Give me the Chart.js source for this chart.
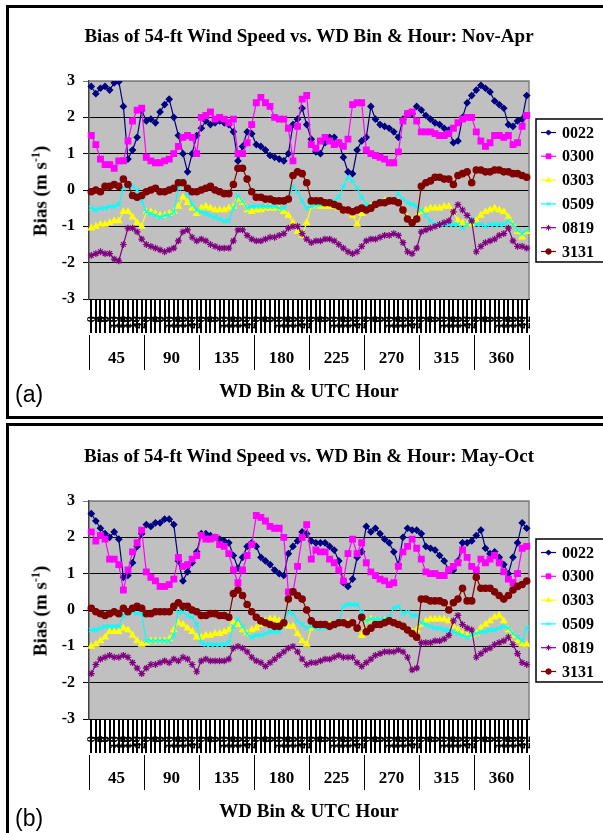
<!DOCTYPE html>
<html>
<head>
<meta charset="utf-8">
<script src="https://cdn.jsdelivr.net/npm/chart.js@4.4.1/dist/chart.umd.min.js"></script>
<style>
body{margin:0;width:603px;height:833px;overflow:hidden;background:#fff;position:relative;font-family:"Liberation Serif","Times New Roman",serif}
.frame{position:absolute;left:6px;width:640px;border:3px solid #000;box-sizing:border-box}
#frameA{top:5px;height:414px}
#frameB{top:423px;height:430px}
.panel{position:absolute;left:0;width:603px}
#panelA{top:0;height:416px}
#panelB{top:420px;height:413px}
.panel canvas{position:absolute;left:0;top:0}
.title{position:absolute;left:0;width:618px;text-align:center;font-weight:bold;font-size:19px;line-height:19px;white-space:nowrap}
.ytitle{position:absolute;left:40px;top:191px;transform:translate(-50%,-50%) rotate(-90deg);font-weight:bold;font-size:19px;white-space:nowrap;line-height:19px}
.ytitle sup{font-size:12px;vertical-align:7px;line-height:0}
.xtitle{position:absolute;left:0;width:618px;top:381px;text-align:center;font-weight:bold;font-size:19px;line-height:19px}
.tag{position:absolute;left:15px;font-family:"Liberation Sans",Arial,sans-serif;font-size:23px;line-height:23px}
</style>
</head>
<body>
<div class="frame" id="frameA"></div>
<div class="frame" id="frameB"></div>

<div class="panel" id="panelA">
  <canvas id="chartA" width="603" height="416"></canvas>
  <div class="title" style="top:26px">Bias of 54-ft Wind Speed vs. WD Bin &amp; Hour: Nov-Apr</div>
  <div class="ytitle">Bias (m s<sup>-1</sup>)</div>
  <div class="xtitle">WD Bin &amp; UTC Hour</div>
  <div class="tag" style="top:383px">(a)</div>
</div>

<div class="panel" id="panelB">
  <canvas id="chartB" width="603" height="413"></canvas>
  <div class="title" style="top:26px">Bias of 54-ft Wind Speed vs. WD Bin &amp; Hour: May-Oct</div>
  <div class="ytitle">Bias (m s<sup>-1</sup>)</div>
  <div class="xtitle">WD Bin &amp; UTC Hour</div>
  <div class="tag" style="top:387px">(b)</div>
</div>

<script>
// wind direction bins and the UTC hours read inside each bin
const bins = ['45', '90', '135', '180', '225', '270', '315', '360'];
const hours = ['0', '2', '4', '6', '8', '10', '12', '14', '16', '18', '20', '22'];
const seriesNames = ['0022', '0300', '0303', '0509', '0819', '3131'];

// Nov-Apr (panel a), 12 values per bin
const a0022 = [2.85,2.65,2.8,2.85,2.75,2.95,2.98,2.3,0.85,1.1,1.45,2.2,
  1.9,1.95,1.85,2.15,2.35,2.5,2.0,1.5,1.0,0.5,1.0,1.5,
  1.7,1.9,1.8,1.85,1.9,1.85,1.8,1.6,0.8,1.2,1.6,1.55,
  1.25,1.2,1.1,0.95,0.9,0.85,0.8,1.0,1.8,1.95,2.25,1.8,
  1.4,1.05,1.0,1.3,1.45,1.45,1.3,0.9,0.5,0.45,1.1,1.35,
  1.45,2.3,1.95,1.8,1.75,1.7,1.6,1.45,1.95,2.1,2.1,2.3,
  2.2,2.05,1.95,1.85,1.8,1.7,1.65,1.3,1.35,2.0,2.4,2.6,
  2.75,2.88,2.8,2.7,2.45,2.35,2.25,1.8,1.75,1.9,1.95,2.6];
const a0300 = [1.5,1.25,0.85,0.7,0.7,0.6,0.8,0.8,1.35,1.9,2.2,2.25,
  0.9,0.8,0.75,0.75,0.8,0.85,1.0,1.2,1.45,1.5,1.45,1.0,
  2.0,2.05,2.15,1.95,2.0,1.95,1.85,1.95,1.0,1.0,1.3,1.8,
  2.4,2.55,2.4,2.3,2.0,1.95,1.95,1.7,0.8,1.75,2.5,2.6,
  1.25,1.15,1.35,1.45,1.35,1.25,1.3,1.2,1.4,2.35,2.4,2.4,
  1.1,1.0,0.95,0.9,0.85,0.75,0.75,1.05,1.9,2.1,2.15,1.9,
  1.6,1.6,1.6,1.55,1.5,1.5,1.55,1.7,1.85,1.95,2.0,2.0,
  1.6,1.35,1.2,1.3,1.5,1.5,1.45,1.5,1.25,1.3,1.75,2.05];
const a0303 = [-1.05,-1.0,-0.95,-0.95,-0.9,-0.85,-0.85,-0.6,-0.6,-0.75,-0.9,-1.0,
  -0.6,-0.6,-0.65,-0.7,-0.7,-0.65,-0.6,-0.45,-0.2,-0.35,-0.5,-0.65,
  -0.5,-0.45,-0.5,-0.55,-0.55,-0.55,-0.5,-0.45,-0.25,-0.35,-0.55,-0.6,
  -0.55,-0.55,-0.5,-0.5,-0.5,-0.5,-0.6,-0.7,-0.9,-1.15,-1.25,-0.9,
  -0.45,-0.4,-0.45,-0.45,-0.45,-0.45,-0.5,-0.55,-0.6,-0.7,-0.95,-0.65,
  -0.5,-0.45,-0.4,-0.35,-0.3,-0.3,-0.3,-0.35,-0.55,-0.75,-0.85,-0.75,
  -0.6,-0.55,-0.5,-0.5,-0.5,-0.45,-0.45,-0.6,-0.85,-0.9,-0.95,-0.95,
  -0.85,-0.7,-0.6,-0.55,-0.5,-0.55,-0.6,-0.75,-0.95,-1.15,-1.3,-1.15];
const a0509 = [-0.5,-0.55,-0.5,-0.5,-0.45,-0.45,-0.4,0.05,0.15,0.1,0.0,-0.3,
  -0.6,-0.65,-0.7,-0.75,-0.7,-0.7,-0.6,0.05,0.25,-0.1,-0.4,-0.55,
  -0.6,-0.65,-0.7,-0.75,-0.8,-0.85,-0.85,-0.5,-0.15,-0.3,-0.5,-0.45,
  -0.45,-0.45,-0.45,-0.45,-0.45,-0.5,-0.5,-0.3,0.1,-0.05,-0.3,-0.5,
  -0.45,-0.4,-0.4,-0.35,-0.35,-0.3,-0.2,0.1,0.35,0.25,0.05,-0.2,
  -0.4,-0.45,-0.35,-0.3,-0.3,-0.3,-0.25,-0.1,-0.25,-0.35,-0.4,-0.45,
  -0.55,-0.7,-0.85,-0.95,-0.95,-0.95,-0.95,-0.95,-0.95,-1.05,-0.95,-0.8,
  -0.95,-0.95,-1.0,-0.95,-0.95,-0.95,-0.95,-0.85,-0.95,-1.1,-1.2,-1.1];
const a0819 = [-1.8,-1.75,-1.7,-1.75,-1.75,-1.9,-1.95,-1.5,-1.05,-1.05,-1.15,-1.35,
  -1.5,-1.55,-1.6,-1.65,-1.7,-1.65,-1.6,-1.4,-1.15,-1.1,-1.3,-1.4,
  -1.35,-1.4,-1.5,-1.55,-1.6,-1.6,-1.6,-1.4,-1.1,-1.1,-1.25,-1.35,
  -1.4,-1.4,-1.35,-1.3,-1.3,-1.25,-1.2,-1.05,-1.0,-1.0,-1.2,-1.35,
  -1.45,-1.4,-1.4,-1.35,-1.35,-1.4,-1.5,-1.6,-1.7,-1.75,-1.7,-1.55,
  -1.4,-1.35,-1.35,-1.3,-1.25,-1.25,-1.2,-1.25,-1.45,-1.7,-1.75,-1.6,
  -1.15,-1.1,-1.05,-1.0,-0.95,-0.9,-0.85,-0.6,-0.4,-0.55,-0.7,-0.85,
  -1.7,-1.55,-1.45,-1.4,-1.35,-1.25,-1.2,-1.05,-1.4,-1.55,-1.55,-1.6];
const a3131 = [-0.05,0.0,-0.05,0.1,0.1,0.15,0.1,0.3,0.15,-0.15,-0.2,-0.15,
  -0.05,0.0,0.05,-0.05,-0.05,0.0,0.05,0.2,0.2,0.05,-0.05,-0.05,
  0.0,0.05,0.1,0.0,-0.05,-0.1,-0.1,0.15,0.6,0.6,0.3,-0.05,
  -0.2,-0.2,-0.25,-0.25,-0.3,-0.3,-0.3,-0.25,0.4,0.5,0.45,0.2,
  -0.3,-0.3,-0.3,-0.35,-0.35,-0.4,-0.45,-0.55,-0.55,-0.6,-0.55,-0.5,
  -0.55,-0.5,-0.4,-0.35,-0.35,-0.3,-0.3,-0.35,-0.55,-0.8,-0.9,-0.8,
  0.1,0.2,0.25,0.35,0.35,0.3,0.3,0.15,0.4,0.45,0.5,0.2,
  0.55,0.55,0.5,0.5,0.55,0.55,0.5,0.5,0.45,0.45,0.4,0.35];

// May-Oct (panel b)
const b0022 = [2.65,2.45,2.25,2.1,2.0,2.15,1.95,0.9,0.95,1.3,1.75,2.1,
  2.35,2.3,2.4,2.4,2.5,2.5,2.35,1.35,0.8,1.05,1.3,1.6,
  2.1,2.1,2.05,2.0,1.95,1.9,1.85,1.5,1.15,1.45,1.75,1.85,
  1.75,1.45,1.35,1.25,1.1,1.0,0.95,1.55,1.75,1.9,2.15,2.1,
  1.9,1.85,1.85,1.85,1.75,1.65,1.35,0.75,0.65,0.85,1.45,1.6,
  2.3,2.15,2.25,2.1,1.95,1.85,1.6,1.25,2.0,2.25,2.2,2.2,
  2.1,1.75,1.7,1.65,1.5,1.35,1.1,1.1,1.35,1.85,1.85,1.9,
  2.05,2.2,1.7,1.55,1.6,1.45,1.25,1.0,1.45,1.85,2.4,2.25];
const b0300 = [2.15,1.9,2.05,1.95,1.4,1.4,1.25,0.55,1.1,1.6,1.85,2.2,
  1.05,0.9,0.8,0.65,0.65,0.7,0.85,1.45,1.2,1.25,1.4,1.5,
  2.05,1.95,1.95,2.0,1.8,1.75,1.55,1.1,0.75,1.1,1.5,1.8,
  2.6,2.55,2.45,2.3,2.25,2.25,2.0,0.5,0.5,1.2,2.0,2.35,
  1.4,1.65,1.6,1.6,1.4,1.3,1.1,0.8,1.55,1.95,1.55,1.85,
  1.3,1.05,0.95,0.85,0.8,0.7,0.75,1.2,1.6,1.75,1.95,1.7,
  1.4,1.05,1.0,1.0,0.95,0.95,1.1,1.2,1.3,1.65,1.45,1.2,
  1.1,1.4,1.3,1.4,1.5,1.3,1.05,0.85,0.75,1.0,1.7,1.75];
const b0303 = [-1.0,-0.95,-0.85,-0.75,-0.6,-0.6,-0.6,-0.5,-0.55,-0.7,-0.85,-0.95,
  -0.9,-0.85,-0.85,-0.85,-0.85,-0.8,-0.55,-0.35,-0.4,-0.5,-0.6,-0.75,
  -0.75,-0.7,-0.7,-0.65,-0.65,-0.6,-0.55,-0.35,-0.4,-0.55,-0.65,-0.55,
  -0.5,-0.4,-0.3,-0.25,-0.25,-0.3,-0.35,-0.45,-0.45,-0.65,-0.85,-0.95,
  -0.5,-0.45,-0.45,-0.45,-0.4,-0.4,-0.35,-0.35,-0.35,-0.4,-0.5,-0.7,
  -0.3,-0.25,-0.3,-0.3,-0.3,-0.3,-0.35,-0.4,-0.45,-0.55,-0.6,-0.55,
  -0.4,-0.3,-0.25,-0.25,-0.25,-0.25,-0.3,-0.45,-0.55,-0.65,-0.7,-0.7,
  -0.65,-0.5,-0.4,-0.3,-0.2,-0.15,-0.3,-0.55,-0.7,-0.85,-0.95,-0.95];
const b0509 = [-0.55,-0.55,-0.5,-0.45,-0.45,-0.45,-0.45,-0.15,-0.1,-0.05,-0.1,-0.1,
  -0.85,-0.85,-0.85,-0.85,-0.85,-0.85,-0.7,-0.05,-0.05,-0.15,-0.2,-0.4,
  -0.9,-0.95,-0.95,-0.95,-0.95,-0.95,-0.9,-0.45,-0.25,-0.45,-0.65,-0.75,
  -0.7,-0.7,-0.65,-0.6,-0.6,-0.6,-0.4,-0.05,-0.1,-0.3,-0.4,-0.5,
  -0.45,-0.5,-0.5,-0.5,-0.45,-0.45,-0.3,0.1,0.15,0.15,0.15,-0.05,
  -0.3,-0.25,-0.25,-0.25,-0.25,-0.2,0.05,0.1,-0.1,-0.05,-0.15,-0.15,
  -0.35,-0.4,-0.45,-0.5,-0.5,-0.55,-0.55,-0.6,-0.65,-0.7,-0.75,-0.7,
  -0.65,-0.6,-0.6,-0.55,-0.55,-0.5,-0.45,-0.5,-0.65,-0.75,-0.85,-0.5];
const b0819 = [-1.75,-1.5,-1.35,-1.3,-1.25,-1.3,-1.3,-1.25,-1.3,-1.45,-1.6,-1.75,
  -1.6,-1.5,-1.5,-1.45,-1.4,-1.45,-1.35,-1.4,-1.3,-1.35,-1.5,-1.7,
  -1.4,-1.35,-1.4,-1.4,-1.4,-1.4,-1.35,-1.05,-1.0,-1.05,-1.15,-1.3,
  -1.4,-1.45,-1.55,-1.45,-1.35,-1.25,-1.15,-1.05,-1.0,-1.15,-1.35,-1.5,
  -1.45,-1.45,-1.4,-1.35,-1.35,-1.3,-1.25,-1.3,-1.3,-1.3,-1.45,-1.55,
  -1.45,-1.35,-1.25,-1.2,-1.15,-1.15,-1.15,-1.1,-1.15,-1.3,-1.65,-1.6,
  -0.9,-0.9,-0.9,-0.85,-0.85,-0.8,-0.7,-0.3,-0.15,-0.4,-0.5,-0.55,
  -1.3,-1.2,-1.1,-1.05,-0.95,-0.9,-0.85,-0.75,-0.95,-1.2,-1.45,-1.5];
const b3131 = [0.05,-0.05,-0.1,-0.15,-0.1,-0.05,-0.1,0.05,-0.05,0.05,0.1,0.05,
  -0.1,-0.1,-0.05,-0.05,-0.05,-0.05,0.1,0.2,0.1,0.1,0.0,-0.05,
  -0.15,-0.15,-0.1,-0.1,-0.15,-0.15,-0.2,0.45,0.55,0.4,0.15,-0.05,
  -0.2,-0.3,-0.35,-0.4,-0.45,-0.45,-0.35,0.3,0.5,0.4,0.3,0.0,
  -0.3,-0.4,-0.4,-0.4,-0.45,-0.4,-0.35,-0.35,-0.4,-0.35,-0.5,-0.2,
  -0.6,-0.5,-0.4,-0.4,-0.35,-0.3,-0.35,-0.4,-0.45,-0.55,-0.65,-0.75,
  0.3,0.3,0.25,0.25,0.25,0.2,0.0,0.2,0.3,0.6,0.25,0.25,
  0.9,0.6,0.6,0.6,0.5,0.4,0.3,0.4,0.55,0.65,0.7,0.8];

const colors = ['#000080', '#FF00FF', '#FFFF00', '#00FFFF', '#800080', '#800000'];
const markers = ['rectRot', 'rect', 'triangle', 'crossRot', 'star', 'circle'];
const markerSize = [3, 4, 3.4, 3.2, 3.4, 3.2];

// one category per hour reading, grouped by bin
let hourLabels = [];
bins.forEach(b => hours.forEach(h => hourLabels.push(h)));

Chart.defaults.font.family = "'Liberation Serif', 'Times New Roman', serif";
Chart.defaults.color = '#000';

const plotBack = {
  id: 'plotBack',
  beforeDraw(chart) {
    const a = chart.chartArea, ctx = chart.ctx;
    ctx.save();
    ctx.fillStyle = '#C0C0C0';
    ctx.fillRect(a.left, a.top, a.right - a.left, a.bottom - a.top);
    ctx.restore();
  },
  beforeDatasetsDraw(chart) {
    const a = chart.chartArea, ctx = chart.ctx;
    ctx.save();
    ctx.strokeStyle = '#808080';
    ctx.lineWidth = 1.5;
    ctx.beginPath();
    ctx.moveTo(a.left, a.top);
    ctx.lineTo(a.right, a.top);
    ctx.lineTo(a.right, a.bottom);
    ctx.stroke();
    ctx.restore();
  }
};

// vertical hour labels under the tick marks (they overlap into a dark band, as in the original)
const hourTicks = {
  id: 'hourTicks',
  afterDraw(chart) {
    const xs = chart.scales.x, ctx = chart.ctx;
    ctx.save();
    ctx.fillStyle = '#000';
    ctx.font = "bold 13px 'Liberation Serif', serif";
    ctx.textAlign = 'right';
    ctx.textBaseline = 'middle';
    xs.ticks.forEach((t, i) => {
      ctx.save();
      ctx.translate(xs.getPixelForTick(i), xs.top + 17);
      ctx.rotate(-Math.PI / 2);
      ctx.fillText(hourLabels[i], 0, 0);
      ctx.restore();
    });
    ctx.restore();
  }
};

// legend in a framed box to the right of the plot
const boxLegend = {
  id: 'boxLegend',
  afterDraw(chart, args, opts) {
    const ctx = chart.ctx;
    const x = opts.x, y = opts.y, w = opts.w, h = opts.h;
    ctx.save();
    ctx.fillStyle = '#fff';
    ctx.fillRect(x, y, w, h);
    ctx.strokeStyle = '#000';
    ctx.lineWidth = 1.5;
    ctx.strokeRect(x, y, w, h);
    chart.data.datasets.forEach((ds, i) => {
      const ly = y + 13.5 + i * 23.8;
      ctx.strokeStyle = ds.borderColor;
      ctx.lineWidth = 1.2;
      ctx.beginPath();
      ctx.moveTo(x + 5, ly);
      ctx.lineTo(x + 20, ly);
      ctx.stroke();
      ctx.fillStyle = ds.pointBackgroundColor;
      ctx.strokeStyle = ds.pointBorderColor;
      ctx.lineWidth = 1;
      if (Chart.helpers && Chart.helpers.drawPoint) {
        Chart.helpers.drawPoint(ctx, {pointStyle: ds.pointStyle, radius: ds.pointRadius * 0.85, rotation: 0, borderWidth: 1}, x + 12.5, ly);
      }
      ctx.fillStyle = '#000';
      ctx.font = "bold 16px 'Liberation Serif', serif";
      ctx.textBaseline = 'middle';
      ctx.fillText(ds.label, x + 26, ly + 1);
    });
    ctx.restore();
  }
};

function makeChart(id, seriesData, canvasHeight) {
  const datasets = seriesData.map((vals, i) => ({
    label: seriesNames[i],
    data: vals,
    borderColor: colors[i],
    borderWidth: 1.2,
    pointStyle: markers[i],
    pointRadius: markerSize[i],
    pointBackgroundColor: colors[i],
    pointBorderColor: colors[i],
    pointBorderWidth: 1.2,
    order: seriesNames.length - i,
    tension: 0
  }));

  new Chart(document.getElementById(id), {
    type: 'line',
    data: { labels: hourLabels, datasets: datasets },
    options: {
      responsive: false,
      animation: false,
      events: [],
      layout: { padding: { top: 81, left: 0, right: 74, bottom: canvasHeight - 370 } },
      plugins: {
        legend: { display: false },
        tooltip: { enabled: false },
        boxLegend: { x: 536, y: 119, w: 68, h: 143 }
      },
      scales: {
        y: {
          min: -3,
          max: 3,
          afterFit: s => { s.width = 89; },
          ticks: { stepSize: 1, padding: 8, font: { size: 16, weight: 'bold' } },
          grid: {
            color: c => (c.tick && c.tick.value === 3) ? '#808080' : '#000',
            lineWidth: 1,
            tickLength: 6
          },
          border: { color: '#404040', width: 1.5 }
        },
        x: {
          type: 'category',
          offset: true,
          weight: 0,
          afterFit: s => { s.height = 36; },
          ticks: { display: false, autoSkip: false },
          grid: { drawOnChartArea: false, tickLength: 34, color: '#000', lineWidth: 2 },
          border: { color: '#000' }
        },
        x2: {
          type: 'category',
          labels: bins,
          position: 'bottom',
          offset: true,
          weight: 1,
          afterFit: s => { s.height = 35; },
          ticks: { maxRotation: 0, padding: -22, font: { size: 17, weight: 'bold' } },
          grid: { offset: true, drawOnChartArea: false, tickLength: 35, color: '#000', lineWidth: 1 },
          border: { display: false }
        }
      }
    },
    plugins: [plotBack, hourTicks, boxLegend]
  });
}

makeChart('chartA', [a0022, a0300, a0303, a0509, a0819, a3131], 416);
makeChart('chartB', [b0022, b0300, b0303, b0509, b0819, b3131], 413);
</script>
</body>
</html>
